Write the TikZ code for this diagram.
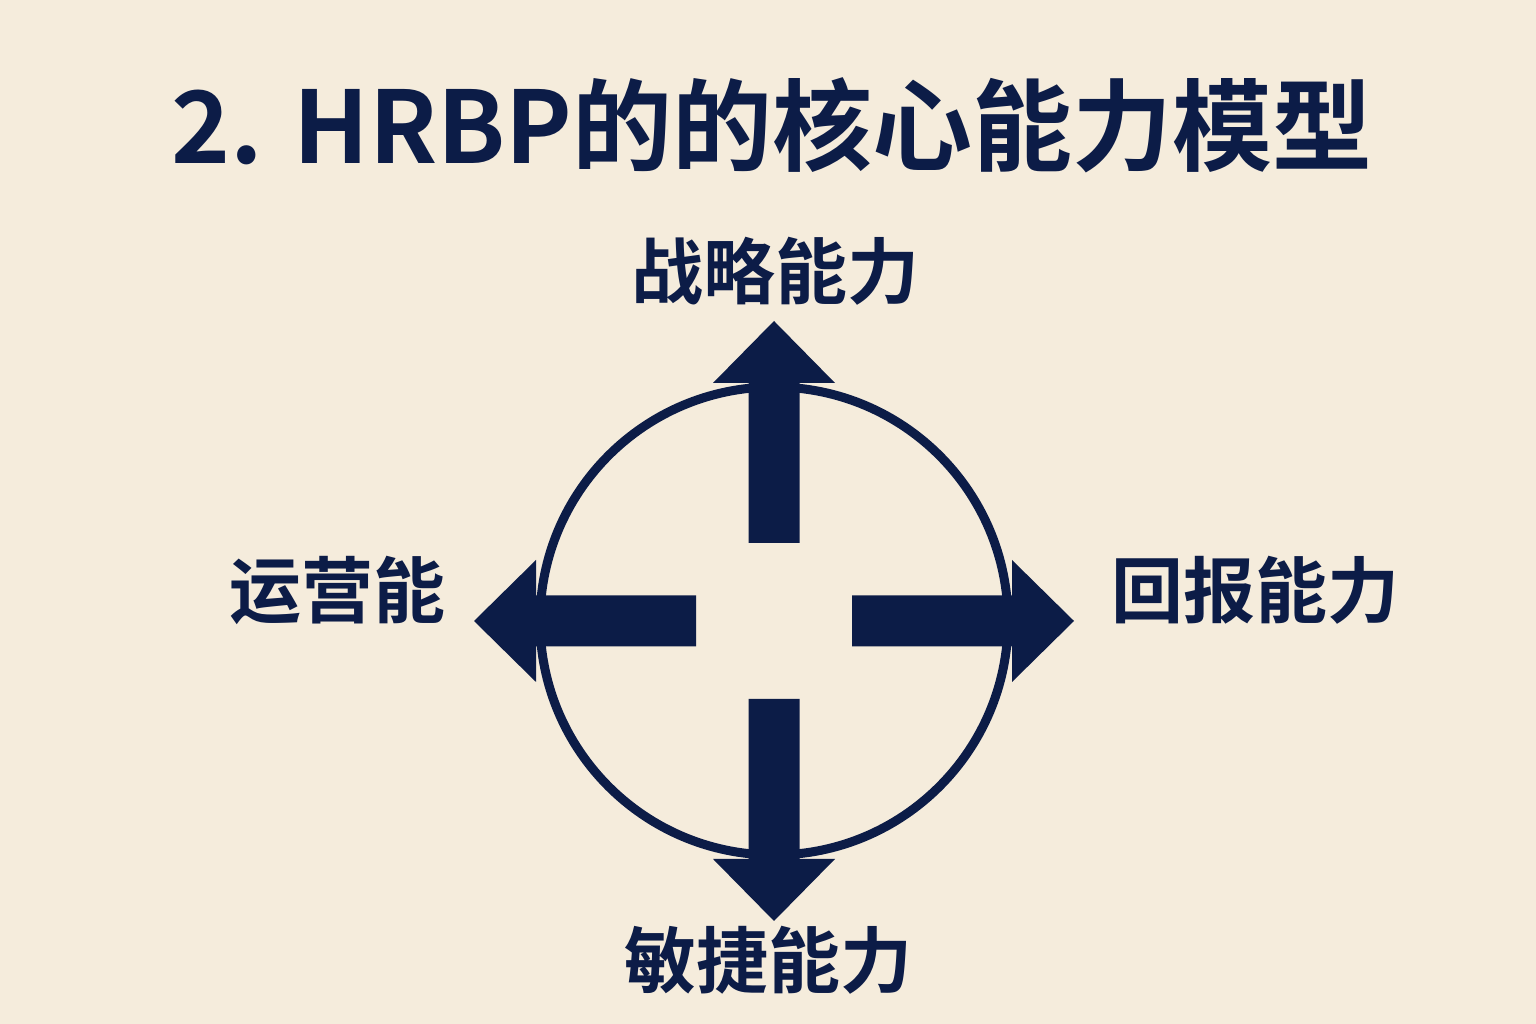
\documentclass[tikz,border=0pt]{standalone}
\usepackage{fontspec}
\usetikzlibrary{positioning}
\newfontfamily\cjkbold{Noto Sans CJK SC Bold}
\definecolor{navy}{HTML}{0C1C47}
\definecolor{cream}{HTML}{F5ECDC}

\tikzset{
  title/.style={text=navy, font=\cjkbold\fontsize{100}{110}\selectfont, inner sep=0pt},
  skill/.style={text=navy, font=\cjkbold\fontsize{72}{80}\selectfont, inner sep=0pt},
  ring/.style={draw=navy, line width=9pt},
  pointer/.style={fill=navy, draw=none}
}

\begin{document}
\begin{tikzpicture}[x=1pt,y=1pt]
  \fill[cream] (0,0) rectangle (1536,1024);
  \useasboundingbox (0,0) rectangle (1536,1024);
  \coordinate (hub) at (774,403);
  \node[title] (heading) at (772,899) {2. HRBP的的核心能力模型};
  % the ring
  \draw[ring] (hub) circle (234);
  % four arrows out of the middle
  \foreach \ang in {0,90,180,270}
  {
    \fill[pointer, shift={(hub)}, rotate=\ang]
      (78,-25.5) -- (238,-25.5) -- (238,-61) -- (300,0)
      -- (238,61) -- (238,25.5) -- (78,25.5) -- cycle;
  }
  \node[skill] (strategy) at (775,753) {战略能力};
  \node[skill] (operate) at (337,434) {运营能};
  \node[skill] (payback) at (1255,434) {回报能力};
  \node[skill] (agile) at (768,64) {敏捷能力};
\end{tikzpicture}
\end{document}
